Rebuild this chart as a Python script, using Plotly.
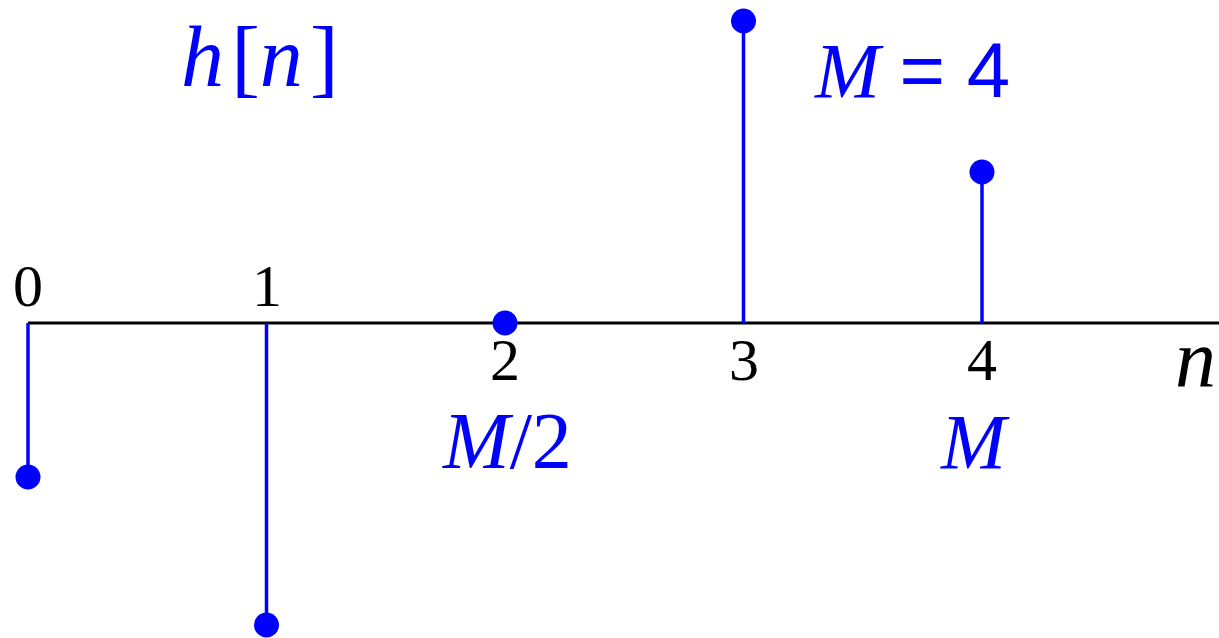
import plotly.graph_objects as go

n_vals = [0, 1, 2, 3, 4]
h_vals = [-0.51, -1.0, 0.0, 1.0, 0.5]
tick_labels = ["0", "1", "2", "3", "4"]
tick_above = [True, True, False, False, False]
blue = "#0000ff"

W, H = 1219, 638
x0_px, dx_px = 28.0, 238.5
y0_px, dy_px = 323.0, 302.0
xmin = -x0_px / dx_px
xmax = (W - x0_px) / dx_px
ymax = y0_px / dy_px
ymin = -(H - y0_px) / dy_px


def px_x(p):
    return (p - x0_px) / dx_px


def px_y(p):
    return (y0_px - p) / dy_px


fig = go.Figure()
sx, sy = [], []
for n, v in zip(n_vals, h_vals):
    sx += [n, n, None]
    sy += [0, v, None]
fig.add_trace(go.Scatter(x=sx, y=sy, mode="lines", line=dict(color=blue, width=3.5),
                         hoverinfo="skip", showlegend=False, cliponaxis=False))
fig.add_trace(go.Scatter(x=n_vals, y=h_vals, mode="markers", cliponaxis=False,
                         marker=dict(color=blue, size=25), showlegend=False))

fig.add_shape(type="line", xref="x", yref="y", x0=0, x1=xmax, y0=0, y1=0,
              line=dict(color="black", width=3), layer="below")

serif = "Liberation Serif"
annotations = []
for n, lab, above in zip(n_vals, tick_labels, tick_above):
    annotations.append(dict(x=n, y=0, xref="x", yref="y", text=lab, showarrow=False,
                            font=dict(family=serif, size=60, color="black"),
                            yshift=37 if above else -37))
annotations += [
    dict(x=px_x(507), y=px_y(441), xref="x", yref="y", text="<i>M</i>/2", showarrow=False,
         font=dict(family=serif, size=80, color=blue)),
    dict(x=px_x(975), y=px_y(441), xref="x", yref="y", text="<i>M</i>", showarrow=False,
         font=dict(family=serif, size=78, color=blue)),
    dict(x=px_x(1218), y=px_y(358), xref="x", yref="y", text="<i>n</i>", showarrow=False,
         xanchor="right", font=dict(family=serif, size=82, color="black")),
    dict(x=px_x(260), y=px_y(57), xref="x", yref="y",
         text="<i>h</i>\u200a[<i>n</i>\u200a]", showarrow=False,
         font=dict(family=serif, size=86, color=blue)),
    dict(x=px_x(912), y=px_y(70), xref="x", yref="y",
         text="<i>M</i> <span style=\"font-family:'Liberation Sans'\">= 4</span>",
         showarrow=False, font=dict(family=serif, size=78, color=blue)),
]

fig.update_layout(
    width=W, height=H, margin=dict(l=0, r=0, t=0, b=0),
    paper_bgcolor="white", plot_bgcolor="white",
    xaxis=dict(range=[xmin, xmax], visible=False, fixedrange=True),
    yaxis=dict(range=[ymin, ymax], visible=False, fixedrange=True),
    annotations=annotations, showlegend=False,
)
fig.write_html(
    "out.html",
    config={"displayModeBar": False},
    post_script="document.body.style.margin='0';document.body.style.overflow='hidden';",
)
